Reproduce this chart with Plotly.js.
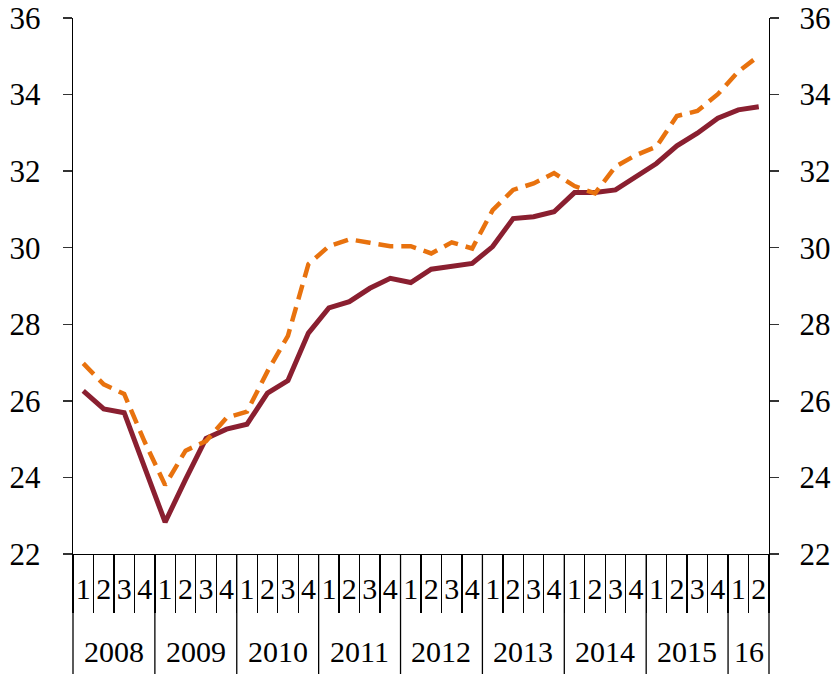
<!DOCTYPE html>
<html>
<head>
<meta charset="utf-8">
<script src="https://cdn.plot.ly/plotly-3.0.1.min.js"></script>
<style>html,body{margin:0;padding:0;background:#fff;}#chart{width:834px;height:674px;}</style>
</head>
<body>
<div id="chart"></div>
<script>
// ---- data ----
const yearLabels = ["2008","2009","2010","2011","2012","2013","2014","2015","16"];
const quartersPerYear = [4,4,4,4,4,4,4,4,2];
const quarterLabels = ["1","2","3","4","1","2","3","4","1","2","3","4","1","2","3","4","1","2","3","4","1","2","3","4","1","2","3","4","1","2","3","4","1","2"];
const solidSeries = [26.26, 25.79, 25.69, 24.27, 22.83, 23.95, 25.02, 25.26,
                     25.39, 26.20, 26.53, 27.77, 28.43, 28.59, 28.94, 29.20,
                     29.09, 29.44, 29.50, 29.59, 30.03, 30.76, 30.81, 30.94,
                     31.44, 31.44, 31.51, 31.87, 32.20, 32.66, 32.99, 33.38,
                     33.60, 33.68];
const dashedSeries = [26.98, 26.43, 26.18, 24.93, 23.80, 24.70, 24.95, 25.56,
                      25.72, 26.77, 27.70, 29.57, 30.04, 30.22, 30.13, 30.04,
                      30.04, 29.85, 30.14, 29.98, 30.98, 31.51, 31.68, 31.95,
                      31.61, 31.42, 32.12, 32.42, 32.64, 33.44, 33.57, 34.01,
                      34.60, 35.01];
const yTicks = [22,24,26,28,30,32,34,36];

// ---- build ----
const N = quarterLabels.length;
const idx = quarterLabels.map((_, i) => i);
const boundaries = Array.from({length: N + 1}, (_, i) => i - 0.5);
const FONT = "Liberation Serif";

const shapes = [];
const annotations = [];
let start = 0;
shapes.push({type:'line', xref:'paper', yref:'paper', x0:0, x1:0, y0:0, y1:-0.3, line:{color:'#000', width:1.3}});
yearLabels.forEach((yl, k) => {
  const n = quartersPerYear[k];
  const end = start + n;
  shapes.push({type:'line', xref:'paper', yref:'paper', x0:end / N, x1:end / N, y0:0, y1:-0.3, line:{color:'#000', width:1.3}});
  annotations.push({xref:'x', yref:'paper', x:(start + end - 1) / 2, y:-0.181, yanchor:'middle', xanchor:'center',
                    text:yl, showarrow:false, font:{family:FONT, size:30, color:'#000'}});
  start = end;
});

const traces = [
  {x: idx, y: solidSeries, type:'scatter', mode:'lines', name:'Solid',
   line:{color:'#8A1F30', width:5}, hoverinfo:'skip'},
  {x: idx, y: dashedSeries, type:'scatter', mode:'lines', name:'Dashed',
   line:{color:'#E8720E', width:4.5, dash:'15px,8px'}, hoverinfo:'skip'},
  {x: idx, y: solidSeries, type:'scatter', mode:'lines', yaxis:'y2', showlegend:false,
   line:{width:0}, opacity:0, hoverinfo:'skip'}
];

const yBase = {
  range:[22,36], tickmode:'array', tickvals:yTicks, ticktext:yTicks.map(String),
  ticks:'outside', ticklen:9, tickwidth:1.3, tickcolor:'#333',
  showline:true, linecolor:'#000', linewidth:1.3,
  showgrid:false, zeroline:false,
  tickfont:{family:FONT, size:31, color:'#000'}
};

const layout = {
  width:834, height:674,
  margin:{l:73, r:65, t:18, b:120},
  paper_bgcolor:'#fff', plot_bgcolor:'#fff',
  showlegend:false,
  xaxis:{
    range:[-0.5, N - 0.5], tickmode:'array', tickvals:idx, ticktext:quarterLabels,
    ticks:'', ticklen:0,
    minor:{tickmode:'array', tickvals:boundaries, ticks:'outside', ticklen:58, tickwidth:1.3, tickcolor:'#000', showgrid:false},
    showline:true, linecolor:'#000', linewidth:1.3,
    showgrid:false, zeroline:false,
    tickfont:{family:FONT, size:30, color:'#000'},
    ticklabelstandoff:8
  },
  yaxis: Object.assign({}, yBase, {side:'left', ticklabelstandoff:16}),
  yaxis2: Object.assign({}, yBase, {side:'right', overlaying:'y', ticklabelstandoff:14}),
  shapes: shapes,
  annotations: annotations
};

Plotly.newPlot('chart', traces, layout, {displayModeBar:false, staticPlot:true});
</script>
</body>
</html>
